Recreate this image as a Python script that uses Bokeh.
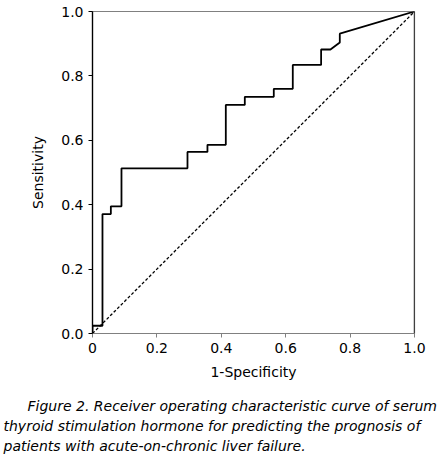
from bokeh.plotting import figure
from bokeh.models import Range1d, Span, Title, FixedTicker, NumeralTickFormatter
from bokeh.embed import file_html
from bokeh.resources import INLINE

# ROC curve vertices
fpr = [0.0, 0.0, 0.031, 0.031, 0.057, 0.057, 0.090, 0.090, 0.295, 0.295,
       0.357, 0.357, 0.414, 0.414, 0.473, 0.473, 0.563, 0.563, 0.622, 0.622,
       0.710, 0.710, 0.739, 0.768, 0.768, 1.0]
tpr = [0.0, 0.024, 0.024, 0.371, 0.371, 0.395, 0.395, 0.513, 0.513, 0.564,
       0.564, 0.586, 0.586, 0.710, 0.710, 0.735, 0.735, 0.760, 0.760, 0.834,
       0.834, 0.882, 0.882, 0.904, 0.931, 1.0]
ref_x = [0.0, 1.0]
ref_y = [0.0, 1.0]
ticks = [0.0, 0.2, 0.4, 0.6, 0.8, 1.0]
caption = [
    "Figure 2. Receiver operating characteristic curve of serum",
    "thyroid stimulation hormone for predicting the prognosis of",
    "patients with acute-on-chronic liver failure.",
]

FONT = "DejaVu Sans"

p = figure(width=443, height=462, frame_width=322, frame_height=322,
           min_border_left=92, min_border_top=11, min_border_right=29,
           min_border_bottom=129,
           x_range=Range1d(0, 1), y_range=Range1d(0, 1),
           output_backend="svg", toolbar_location=None)
p.grid.visible = False
p.outline_line_color = "#808080"
p.outline_line_width = 1.2
p.background_fill_color = "white"
p.border_fill_color = "white"

p.line(ref_x, ref_y, line_color="black", line_width=1.3, line_dash="3 2")
p.line(fpr, tpr, line_color="black", line_width=1.8)

# right edge of the frame is black in the original
p.add_layout(Span(location=1.0, dimension="height", line_color="black",
                  line_width=1.3))

for ax in (p.xaxis[0], p.yaxis[0]):
    ax.ticker = FixedTicker(ticks=ticks)
    ax.formatter = NumeralTickFormatter(format="0.0")
    ax.minor_tick_line_color = None
    ax.major_tick_in = 0
    ax.major_tick_out = 4
    ax.major_label_text_font = FONT
    ax.major_label_text_font_size = "14px"
    ax.major_label_text_color = "black"
    ax.axis_label_text_font = FONT
    ax.axis_label_text_font_size = "14px"
    ax.axis_label_text_font_style = "normal"
    ax.axis_label_text_color = "black"
    ax.major_label_standoff = 5

p.xaxis.axis_label = "1-Specificity"
p.xaxis.axis_line_color = "#808080"
p.xaxis.major_tick_line_color = "#808080"
p.xaxis.axis_line_width = 1.2
p.xaxis.major_label_overrides = {0: "0"}
p.xaxis.axis_label_standoff = 8

p.yaxis.axis_label = "Sensitivity"
p.yaxis.axis_line_color = "black"
p.yaxis.axis_line_width = 1.3
p.yaxis.major_tick_line_color = "black"
p.yaxis.axis_label_standoff = 12

# blank spacer between the axis label and the caption
p.add_layout(Title(text=" ", text_font_size="8px", standoff=1), "below")

offsets = [-65, -89, -89]
for line, dx in zip(caption, offsets):
    p.add_layout(Title(text=line, align="left", offset=dx, standoff=2,
                       text_font=FONT, text_font_size="14px",
                       text_font_style="italic", text_color="black"),
                 "below")

open("out.html", "w").write(file_html(p, INLINE))
